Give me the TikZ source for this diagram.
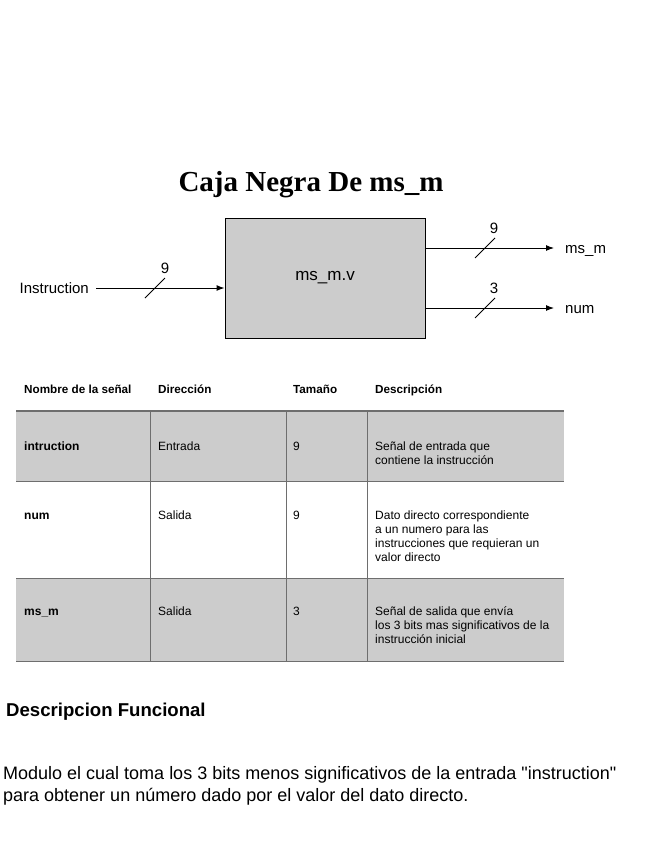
\documentclass[tikz,border=0pt]{standalone}
\usepackage{fontspec}
\setmainfont{Liberation Sans}
\newfontfamily\titlefont{Liberation Serif}
\usetikzlibrary{arrows.meta}

\definecolor{boxgray}{HTML}{CCCCCC}
\definecolor{rulegray}{HTML}{6E6E6E}

% lines stacked from the baseline of the first one
\newcommand\celllines[1]{\begin{tabular}[t]{@{}l@{}}#1\end{tabular}}

\tikzset{
  sig/.style={draw,line width=1pt,-{Latex[length=8pt,width=6pt]}},
  busmark/.style={draw,line width=0.8pt},
  cell/.style={anchor=base west,inner sep=0pt,font=\fontsize{12}{14}\selectfont},
  namecell/.style={cell,font=\bfseries\fontsize{12}{14}\selectfont},
  headcell/.style={cell,font=\bfseries\fontsize{11.7}{14}\selectfont}
}

\begin{document}
\begin{tikzpicture}[x=1pt,y=-1pt]

  \useasboundingbox[fill=white] (0,0) rectangle (651,859);

  \node[anchor=base,inner sep=0pt,font=\titlefont\bfseries\fontsize{29}{33}\selectfont] (title) at (311,191) {Caja Negra De ms\_m};

  % black box
  \node[draw,line width=1pt,fill=boxgray,minimum width=200pt,minimum height=120pt,
        inner sep=0pt,font=\fontsize{17}{20}\selectfont] (mod) at (325,278) {ms\_m.v};

  \begin{scope}[every node/.style={inner sep=0pt,font=\fontsize{15}{17}\selectfont}]
    \node[anchor=east] (lin)  at (89,288)  {Instruction};
    \node[anchor=base west] (lms)  at (565,253) {ms\_m};
    \node[anchor=base west] (lnum) at (565,313) {num};
    \node (w1) at (165,268) {9};
    \node (w2) at (494,228) {9};
    \node (w3) at (494,288) {3};
  \end{scope}

  \coordinate (in) at (96,288);
  \coordinate (o1) at (554,248);
  \coordinate (o2) at (554,308);

  \draw[sig] (in) -- (in -| mod.west);
  \draw[sig] (o1 -| mod.east) -- (o1);
  \draw[sig] (o2 -| mod.east) -- (o2);

  % bus width marks
  \coordinate (s1) at (155,288);
  \coordinate (s2) at (485,248);
  \coordinate (s3) at (485,308);
  \foreach \s in {s1,s2,s3}
    \draw[busmark] ([shift={(-10,10)}]\s) -- ([shift={(10,-10)}]\s);

  % signal table
  \fill[boxgray] (16,411) rectangle (564,481);
  \fill[boxgray] (16,578) rectangle (564,661);
  \draw[rulegray,line width=1.6pt] (16,411) -- (564,411);
  \foreach \y in {481,578,661}
    \draw[rulegray,line width=1pt] (16,\y) -- (564,\y);
  \foreach \x in {150,286,367}
    \draw[rulegray,line width=1pt] (\x,411) -- (\x,661);

  \node[headcell] (h1) at (24,393)  {Nombre de la señal};
  \node[headcell] (h2) at (158,393) {Dirección};
  \node[headcell] (h3) at (293,393) {Tamaño};
  \node[headcell] (h4) at (375,393) {Descripción};

  \node[namecell] (n1) at (24,450) {intruction};
  \node[cell] (d1) at (158,450) {Entrada};
  \node[cell] (t1) at (293,450) {9};
  \node[cell] (c1) at (375,450) {\celllines{Señal de entrada que\\contiene la instrucción}};

  \node[namecell] (n2) at (24,519) {num};
  \node[cell] (d2) at (158,519) {Salida};
  \node[cell] (t2) at (293,519) {9};
  \node[cell] (c2) at (375,519) {\celllines{Dato directo correspondiente\\a un numero para las\\instrucciones que requieran un\\valor directo}};

  \node[namecell] (n3) at (24,615) {ms\_m};
  \node[cell] (d3) at (158,615) {Salida};
  \node[cell] (t3) at (293,615) {3};
  \node[cell] (c3) at (375,615) {\celllines{Señal de salida que envía\\los 3 bits mas significativos de la\\instrucción inicial}};

  % functional description
  \node[anchor=base west,inner sep=0pt,font=\bfseries\fontsize{18.6}{22}\selectfont] (fh) at (6,716) {Descripcion Funcional};
  \node[anchor=base west,inner sep=0pt,font=\fontsize{18}{22}\selectfont] (fd) at (3,779)
    {\celllines{Modulo el cual toma los 3 bits menos significativos de la entrada \textquotedbl instruction\textquotedbl\\para obtener un número dado por el valor del dato directo.}};

\end{tikzpicture}
\end{document}
